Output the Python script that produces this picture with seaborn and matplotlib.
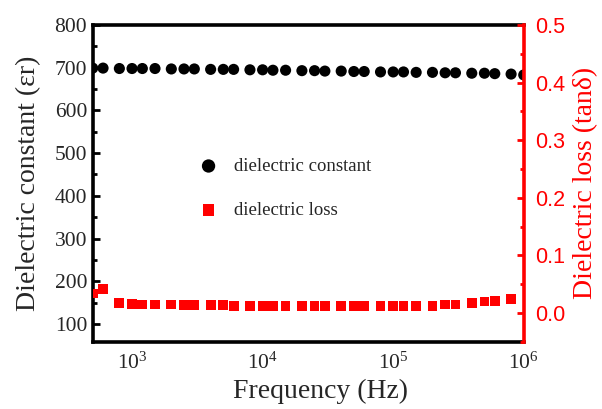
import numpy as np
import pandas as pd
import matplotlib
matplotlib.use('Agg')
import matplotlib.pyplot as plt
import seaborn as sns
from matplotlib.ticker import MultipleLocator, LogLocator, NullFormatter

# data
freq = [500, 600, 800, 1000, 1200, 1500, 2000, 2500, 3000, 4000, 5000, 6000, 8000,
        1e4, 12000, 15000, 20000, 25000, 30000, 40000, 50000, 60000, 80000,
        1e5, 120000, 150000, 200000, 250000, 300000, 400000, 500000, 600000, 800000, 1e6]
eps_r = [699, 699, 698, 698, 698, 698, 697, 697, 697, 696, 696, 696, 695,
         695, 694, 694, 693, 693, 692, 692, 691, 691, 690,
         690, 690, 689, 689, 688, 688, 687, 687, 686, 685, 683]
freq_loss = freq[:-1]
tan_d = [0.034, 0.042, 0.018, 0.016, 0.015, 0.015, 0.015, 0.014, 0.014, 0.014, 0.014, 0.013, 0.013,
         0.013, 0.013, 0.013, 0.013, 0.012, 0.012, 0.012, 0.012, 0.013, 0.013,
         0.012, 0.012, 0.013, 0.013, 0.015, 0.015, 0.018, 0.020, 0.021, 0.025]

df_eps = pd.DataFrame({'f': freq, 'eps': eps_r})
df_loss = pd.DataFrame({'f': freq_loss, 'tan': tan_d})

sns.set_style('white')
plt.rcParams['font.family'] = ['Liberation Serif', 'DejaVu Serif']
plt.rcParams['mathtext.fontset'] = 'stix'

fig = plt.figure(figsize=(6.02, 4.09), dpi=100)
ax = fig.add_axes([0.154, 0.164, 0.716, 0.775])
ax2 = ax.twinx()

sns.scatterplot(data=df_eps, x='f', y='eps', ax=ax, color='black', marker='o',
                s=64, edgecolor='none', label='dielectric constant', legend=False)
sns.scatterplot(data=df_loss, x='f', y='tan', ax=ax2, color='#ff0000', marker='s',
                s=50, edgecolor='none', label='dielectric loss', legend=False)

ax.set_xscale('log')
ax.xaxis.set_major_locator(LogLocator(base=10))
ax.xaxis.set_minor_locator(LogLocator(base=10, subs=np.arange(2, 10)))
ax.xaxis.set_minor_formatter(NullFormatter())
ax.set_xlim(500, 1e6)

ax.set_yticks([100, 200, 300, 400, 500, 600, 700, 800])
ax.yaxis.set_minor_locator(MultipleLocator(50))
ax.set_ylim(58, 800)
ax2.set_yticks([0.0, 0.1, 0.2, 0.3, 0.4, 0.5])
ax2.set_yticklabels(['0.0', '0.1', '0.2', '0.3', '0.4', '0.5'])
ax2.yaxis.set_minor_locator(MultipleLocator(0.05))
ax2.set_ylim(-0.05, 0.5)

for s in ax.spines.values():
    s.set_linewidth(2.6)
    s.set_color('black')
ax.spines['right'].set_visible(False)
for name, s in ax2.spines.items():
    s.set_linewidth(2.6)
    s.set_visible(name == 'right')
ax2.spines['right'].set_color('#ff0000')

ax.tick_params(axis='both', which='both', direction='in', width=2, color='black',
               top=False, right=False)
ax.tick_params(axis='both', which='major', length=5)
ax.tick_params(axis='both', which='minor', length=3)
ax.tick_params(axis='y', labelsize=15.5, pad=4)
ax.tick_params(axis='x', labelsize=15.5, pad=8)
ax2.tick_params(axis='y', which='both', direction='in', width=2, color='#ff0000',
                labelcolor='#ff0000', labelsize=15.5, pad=8)
ax2.tick_params(axis='y', which='major', length=5)
ax2.tick_params(axis='y', which='minor', length=3)
for lab in ax2.get_yticklabels():
    lab.set_family(['Liberation Sans', 'DejaVu Sans'])

ax.set_xlabel('Frequency (Hz)', fontsize=20, x=0.528, labelpad=3)
ax.set_ylabel('Dielectric constant (εr)', fontsize=20, labelpad=10)
ax2.set_ylabel('Dielectric loss (tanδ)', fontsize=20, color='#ff0000', labelpad=6)

h1, l1 = ax.get_legend_handles_labels()
h2, l2 = ax2.get_legend_handles_labels()
ax2.legend(h1 + h2, l1 + l2, loc='center left', bbox_to_anchor=(0.247, 0.484),
           frameon=False, fontsize=13.5, handlelength=1.0, handletextpad=0.85,
           labelspacing=1.45, borderpad=0, borderaxespad=0, markerscale=1.2)

fig.savefig('out.png', dpi=100)
